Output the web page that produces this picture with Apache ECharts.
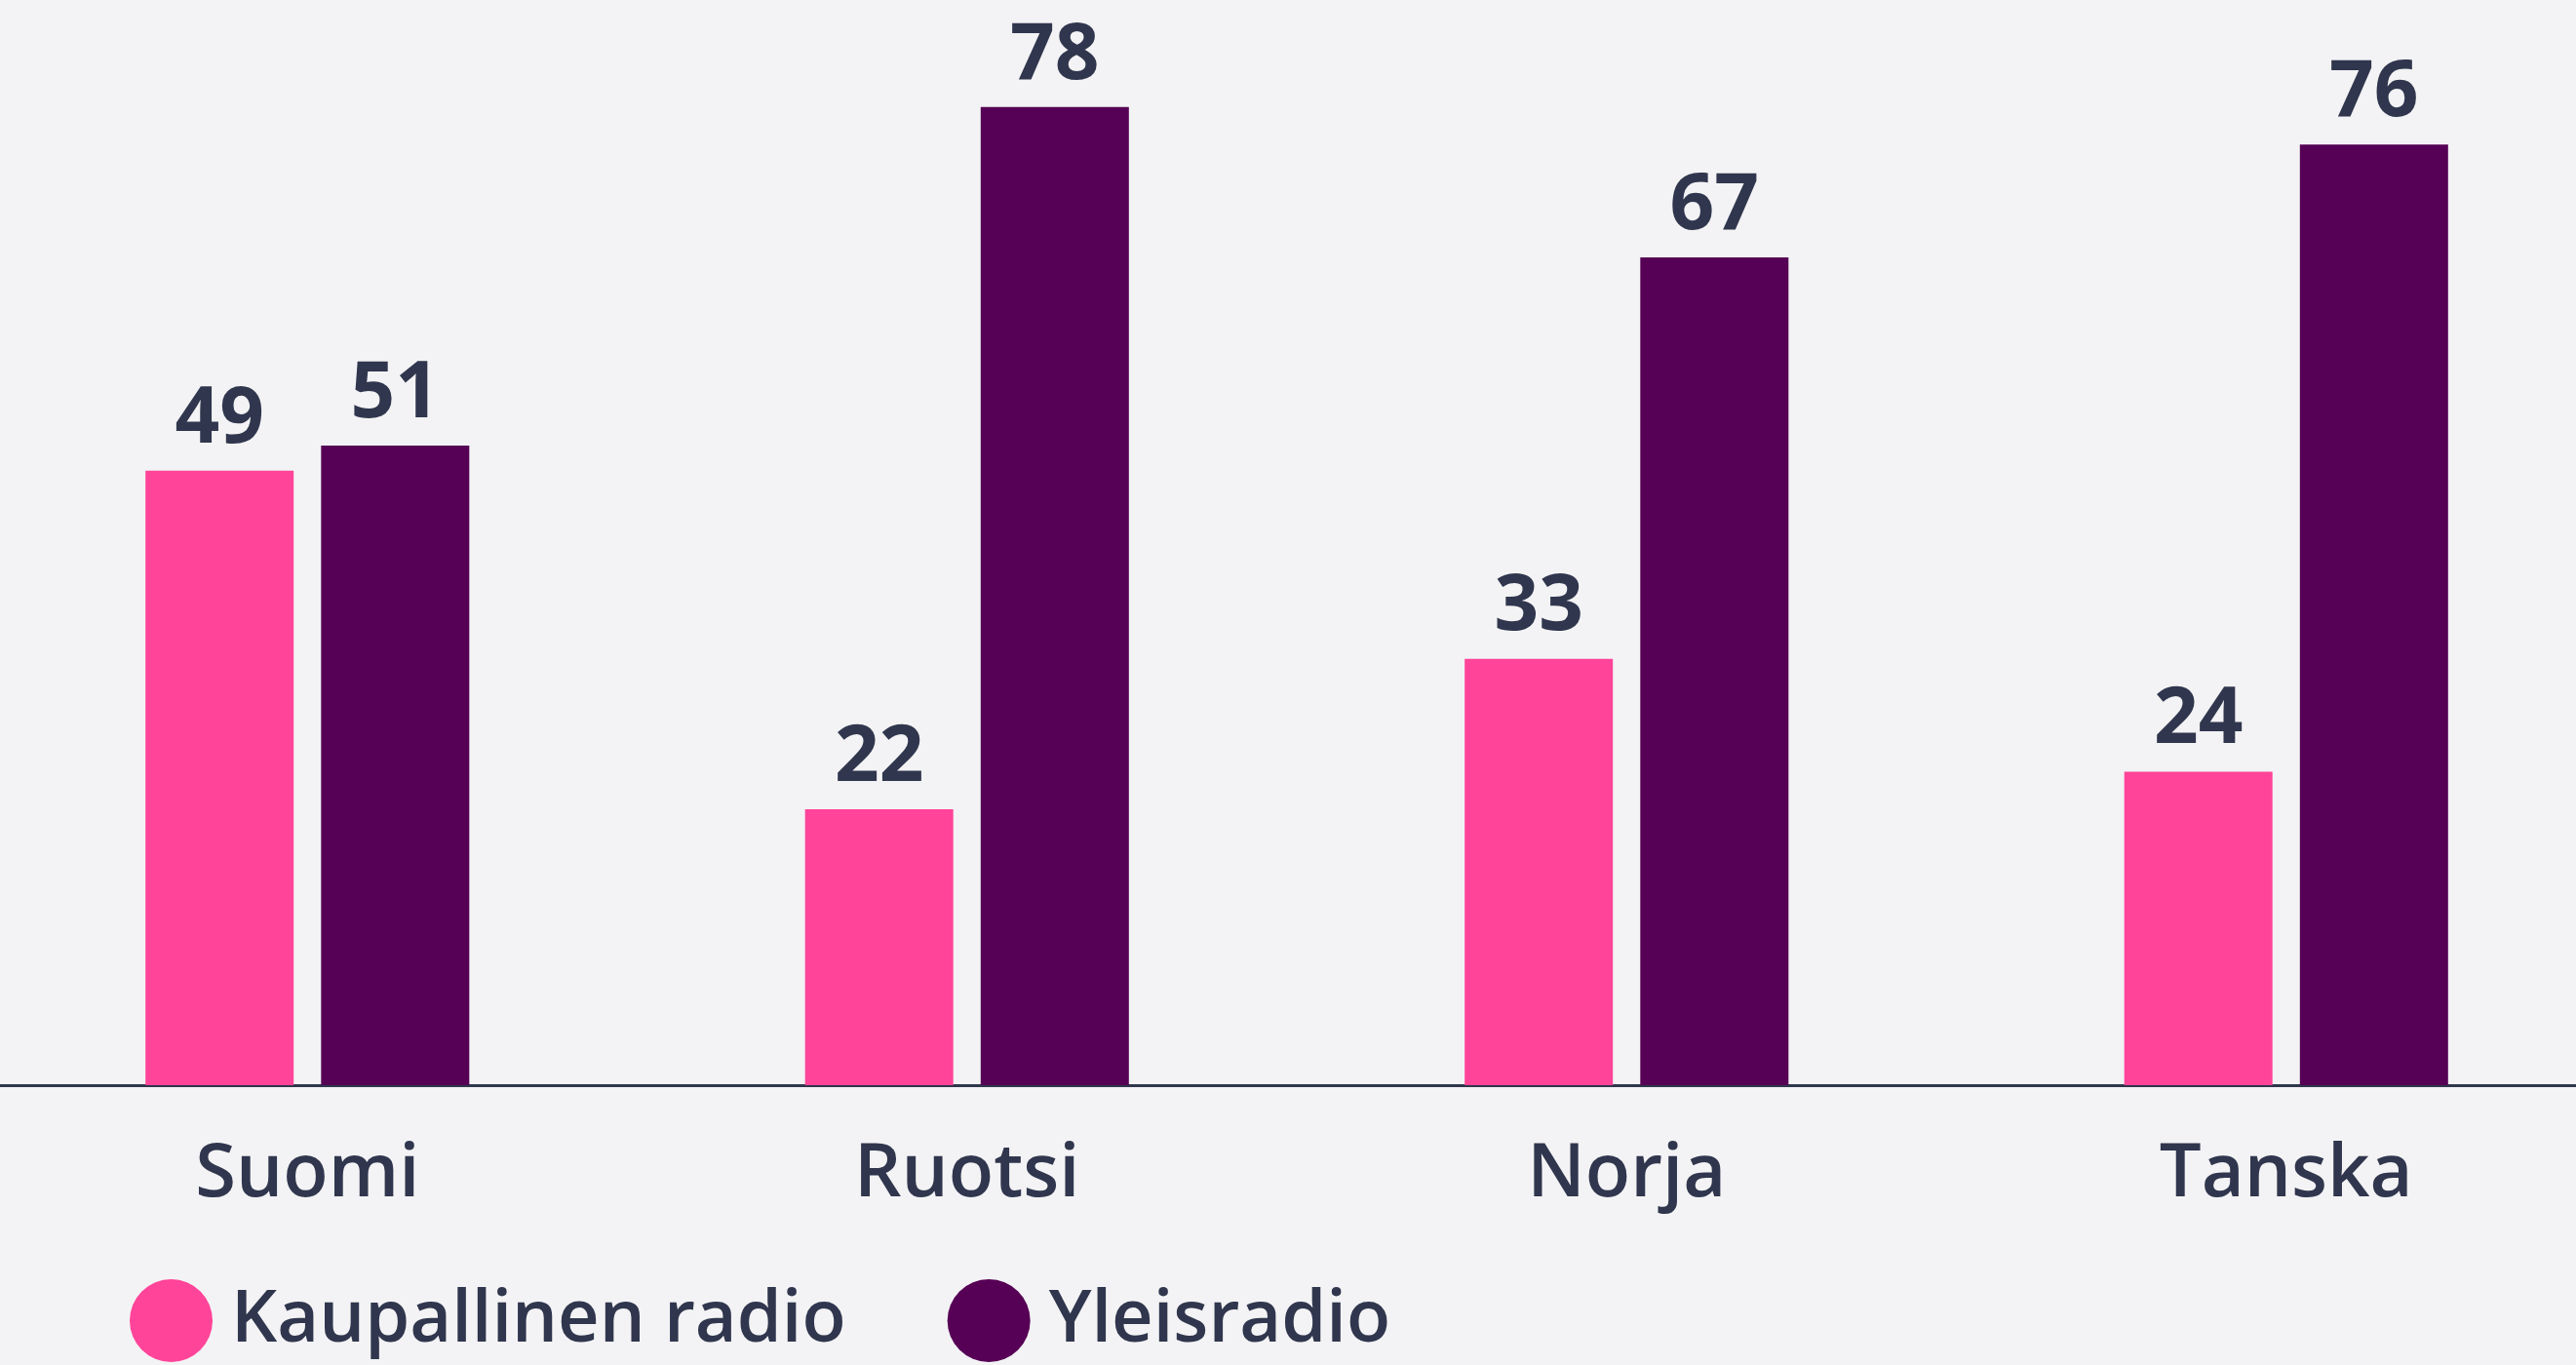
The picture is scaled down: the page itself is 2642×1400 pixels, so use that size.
<!DOCTYPE html>
<html>
<head>
<meta charset="utf-8">
<script src="https://cdn.jsdelivr.net/npm/echarts@6/dist/echarts.min.js"></script>
<style>
  html, body { margin: 0; padding: 0; background: #f3f3f5; }
  #chart { width: 2642px; height: 1400px; }
</style>
</head>
<body>
<div id="chart"></div>
<script>
// maat
const categories = ["Suomi", "Ruotsi", "Norja", "Tanska"];
// pylväiden korkeudet kuvasta luettuna
const kaupallinen = [49, 22, 34, 25];
const yleisradio = [51, 78, 66, 75];
// pylväiden päällä näkyvät luvut
const kaupallinenLabels = [49, 22, 33, 24];
const yleisradioLabels = [51, 78, 67, 76];
const seriesNames = ["Kaupallinen radio", "Yleisradio"];

const textColor = "#30364d";
const font = "Open Sans";

let myChart = echarts.init(document.getElementById("chart"));

function labelStyle (texts) {
  return {
    show: true,
    position: "top",
    distance: 12,
    color: textColor,
    fontFamily: font,
    fontWeight: "bold",
    fontSize: 80,
    formatter: function (p) {
      return texts[p.dataIndex];
    }
  };
}

let option = {
  backgroundColor: "#f3f3f5",
  animation: false,
  grid: {
    outerBoundsMode: "none",
    left: -23,
    right: -41,
    top: 84,
    bottom: 287
  },
  legend: {
    left: 128,
    top: 1307,
    icon: "circle",
    itemWidth: 85,
    itemHeight: 85,
    itemGap: 104,
    textStyle: {
      color: textColor,
      fontFamily: font,
      fontWeight: 600,
      fontSize: 74,
      padding: [0, 0, 0, 14]
    },
    data: seriesNames
  },
  xAxis: {
    type: "category",
    data: categories,
    axisLine: { show: true, lineStyle: { color: textColor, width: 3 } },
    axisTick: { show: false },
    axisLabel: {
      color: textColor,
      fontFamily: font,
      fontWeight: 600,
      fontSize: 76,
      margin: 54
    }
  },
  yAxis: {
    type: "value",
    min: 0,
    max: 80,
    show: false,
    splitLine: { show: false }
  },
  series: [
    {
      name: seriesNames[0],
      type: "bar",
      barWidth: 152,
      barGap: "18.5%",
      itemStyle: { color: "#ff4499" },
      label: labelStyle(kaupallinenLabels),
      data: kaupallinen
    },
    {
      name: seriesNames[1],
      type: "bar",
      barWidth: 152,
      barGap: "18.5%",
      itemStyle: { color: "#560155" },
      label: labelStyle(yleisradioLabels),
      data: yleisradio
    }
  ]
};

myChart.setOption(option);
</script>
</body>
</html>
